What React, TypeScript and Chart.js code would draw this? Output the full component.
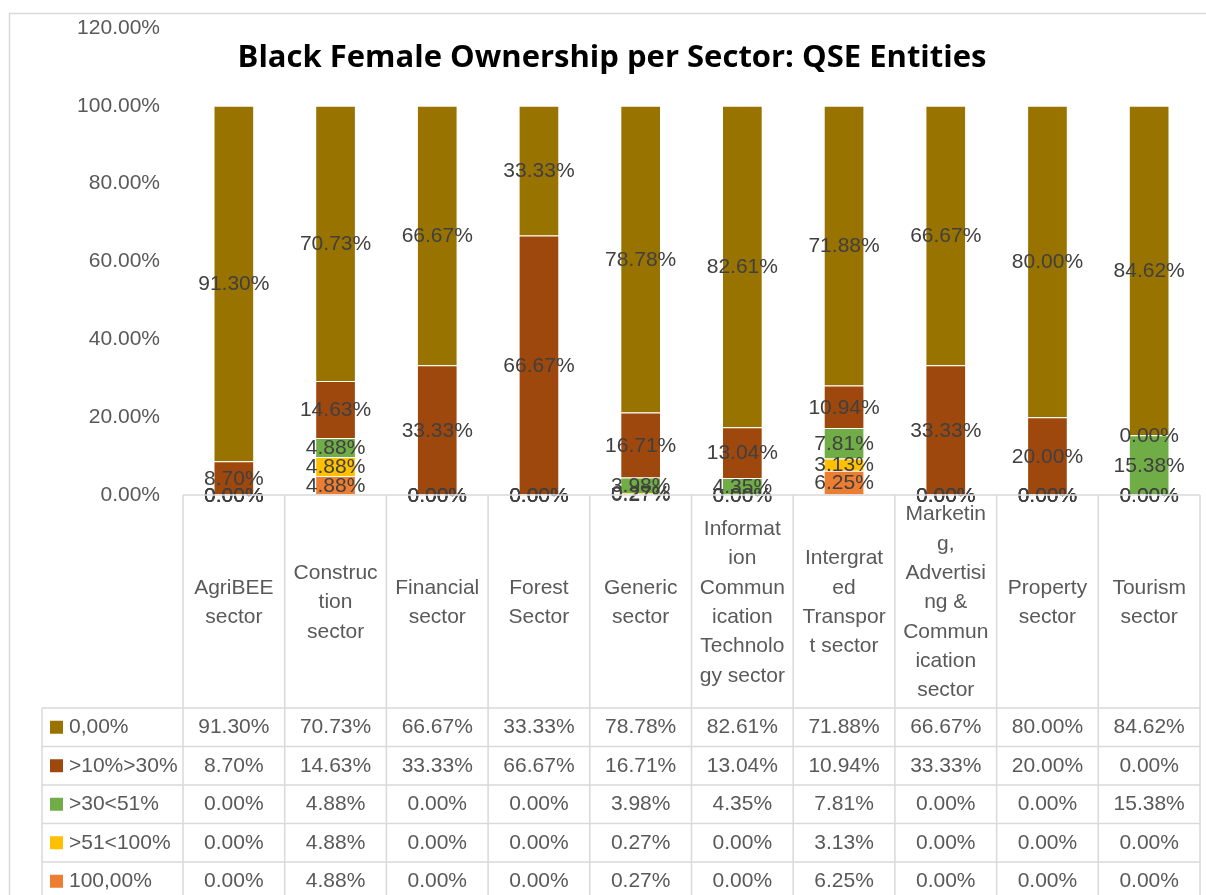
import React, { useEffect, useRef } from "react";
import { Chart, registerables } from "chart.js";

Chart.register(...registerables);

// ---------- data ----------
const categories: string[][] = [
  ["AgriBEE", "sector"],
  ["Construc", "tion", "sector"],
  ["Financial", "sector"],
  ["Forest", "Sector"],
  ["Generic", "sector"],
  ["Informat", "ion", "Commun", "ication", "Technolo", "gy sector"],
  ["Intergrat", "ed", "Transpor", "t sector"],
  ["Marketin", "g,", "Advertisi", "ng &", "Commun", "ication", "sector"],
  ["Property", "sector"],
  ["Tourism", "sector"],
];

const seriesNames = ["0,00%", ">10%>30%", ">30<51%", ">51<100%", "100,00%"];
const seriesColors = ["#997300", "#9E480E", "#70AD47", "#FFC000", "#ED7D31"];

const zeroPct = [91.3, 70.73, 66.67, 33.33, 78.78, 82.61, 71.88, 66.67, 80.0, 84.62];
const tenToThirty = [8.7, 14.63, 33.33, 66.67, 16.71, 13.04, 10.94, 33.33, 20.0, 0.0];
const thirtyToFiftyOne = [0.0, 4.88, 0.0, 0.0, 3.98, 4.35, 7.81, 0.0, 0.0, 15.38];
const fiftyOneToHundred = [0.0, 4.88, 0.0, 0.0, 0.27, 0.0, 3.13, 0.0, 0.0, 0.0];
const hundredPct = [0.0, 4.88, 0.0, 0.0, 0.27, 0.0, 6.25, 0.0, 0.0, 0.0];

// table order (top row first)
const seriesValues = [zeroPct, tenToThirty, thirtyToFiftyOne, fiftyOneToHundred, hundredPct];

const titleText = "Black Female Ownership per Sector: QSE Entities";
const yMax = 120;
const yStep = 20;

// ---------- styling ----------
const FONT = '"Liberation Sans", Arial, sans-serif';
const TITLE_FONT = '"Open Sans", "Liberation Sans", sans-serif';
const FS = 21;
const W = 1206;
const H = 895;
const LINE = "#d9d9d9";
const HEADER_BOTTOM = 708;
const ROW_H = 38.5;
const LEGEND_LEFT = 42;

const fmt = (v: number) => v.toFixed(2) + "%";

const frameAndTitle = {
  id: "frameAndTitle",
  beforeDraw(chart: any) {
    const ctx = chart.ctx;
    ctx.save();
    ctx.fillStyle = "#ffffff";
    ctx.fillRect(0, 0, W, H);
    ctx.strokeStyle = LINE;
    ctx.lineWidth = 1.5;
    ctx.beginPath();
    ctx.moveTo(9.5, H);
    ctx.lineTo(9.5, 13.5);
    ctx.lineTo(W, 13.5);
    ctx.stroke();
    ctx.restore();
  },
  afterDraw(chart: any) {
    const ctx = chart.ctx;
    ctx.save();
    ctx.font = `bold 31px ${TITLE_FONT}`;
    ctx.fillStyle = "#000000";
    ctx.textAlign = "center";
    ctx.textBaseline = "middle";
    ctx.fillText(titleText, 612, 58);
    ctx.restore();
  },
};

const dataLabels = {
  id: "dataLabels",
  afterDatasetsDraw(chart: any) {
    const ctx = chart.ctx;
    ctx.save();
    ctx.font = `${FS}px ${FONT}`;
    ctx.fillStyle = "#404040";
    ctx.textAlign = "center";
    ctx.textBaseline = "middle";
    chart.data.datasets.forEach((ds: any, di: number) => {
      const meta = chart.getDatasetMeta(di);
      meta.data.forEach((el: any, i: number) => {
        const p = el.getProps(["x", "y", "base"], true);
        ctx.fillText(fmt(ds.data[i]), p.x, (p.y + p.base) / 2 + 1);
      });
    });
    ctx.restore();
  },
};

const dataTable = {
  id: "dataTable",
  afterDraw(chart: any) {
    const ctx = chart.ctx;
    const area = chart.chartArea;
    const xs = chart.scales.x;
    const n = categories.length;
    const colW = (area.right - area.left) / n;
    const top = area.bottom;
    const rows = seriesNames.length;
    const bottom = HEADER_BOTTOM + rows * ROW_H;
    ctx.save();
    ctx.strokeStyle = LINE;
    ctx.lineWidth = 1.5;
    ctx.beginPath();
    ctx.moveTo(area.left, top);
    ctx.lineTo(area.right, top);
    for (let r = 0; r <= rows; r++) {
      const y = HEADER_BOTTOM + r * ROW_H;
      ctx.moveTo(LEGEND_LEFT, y);
      ctx.lineTo(area.right, y);
    }
    for (let c = 0; c <= n; c++) {
      const x = area.left + c * colW;
      ctx.moveTo(x, top);
      ctx.lineTo(x, bottom);
    }
    ctx.moveTo(LEGEND_LEFT, HEADER_BOTTOM);
    ctx.lineTo(LEGEND_LEFT, bottom);
    ctx.stroke();

    // category labels
    ctx.font = `${FS}px ${FONT}`;
    ctx.fillStyle = "#595959";
    ctx.textAlign = "center";
    ctx.textBaseline = "middle";
    const lh = 29.3;
    const cy = (top + HEADER_BOTTOM) / 2 + 1;
    categories.forEach((lines, i) => {
      const x = xs.getPixelForValue(i);
      const y0 = cy - ((lines.length - 1) * lh) / 2;
      lines.forEach((t, k) => ctx.fillText(t, x, y0 + k * lh));
    });

    // rows
    seriesNames.forEach((name, r) => {
      const yc = HEADER_BOTTOM + r * ROW_H + ROW_H / 2;
      ctx.fillStyle = seriesColors[r];
      ctx.fillRect(50, yc - 6.5, 13, 13);
      ctx.fillStyle = "#595959";
      ctx.textAlign = "left";
      ctx.fillText(name, 69, yc);
      ctx.textAlign = "center";
      seriesValues[r].forEach((v, i) => {
        ctx.fillText(fmt(v), xs.getPixelForValue(i), yc);
      });
    });
    ctx.restore();
  },
};

export default function App() {
  const ref = useRef<HTMLCanvasElement | null>(null);
  useEffect(() => {
    if (!ref.current) return;
    // datasets bottom-to-top: reverse of table order
    const order = [4, 3, 2, 1, 0];
    const chart = new Chart(ref.current, {
      type: "bar",
      data: {
        labels: categories.map((c) => c.join(" ")),
        datasets: order.map((k) => ({
          label: seriesNames[k],
          data: seriesValues[k],
          backgroundColor: seriesColors[k],
          borderColor: "rgba(255,255,255,0.45)",
          borderWidth: 1,
          categoryPercentage: 1,
          barPercentage: 0.4,
        })),
      },
      options: {
        responsive: false,
        animation: false,
        layout: { padding: { left: 0, top: 28, right: 6, bottom: 400 } },
        plugins: {
          legend: { display: false },
          title: { display: false },
          tooltip: { enabled: false },
        },
        scales: {
          x: {
            stacked: true,
            display: false,
          },
          y: {
            stacked: true,
            min: 0,
            max: yMax,
            grid: {
              display: true,
              drawOnChartArea: false,
              drawTicks: true,
              tickLength: 20,
              tickColor: "rgba(0,0,0,0)",
            },
            border: { display: false },
            ticks: {
              stepSize: yStep,
              padding: 3,
              color: "#595959",
              font: { family: FONT, size: FS },
              callback: (v: any) => fmt(Number(v)),
            },
            afterFit: (scale: any) => {
              scale.width = 183;
            },
          },
        },
      },
      plugins: [frameAndTitle, dataLabels, dataTable],
    });
    return () => chart.destroy();
  }, []);
  return (
    <canvas
      ref={ref}
      width={W}
      height={H}
      style={{ position: "fixed", left: 0, top: 0, width: W, height: H }}
    />
  );
}
